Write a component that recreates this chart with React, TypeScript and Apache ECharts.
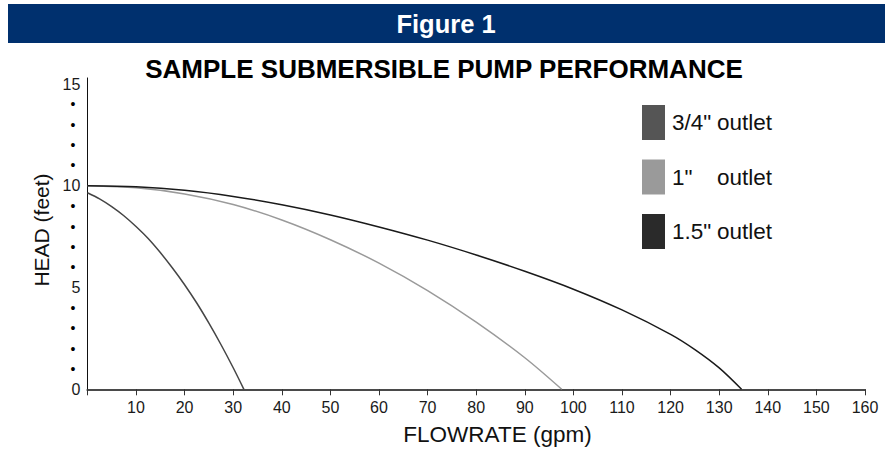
import React, { useEffect, useRef } from 'react';
import * as echarts from 'echarts';

const flowTicks = [0, 10, 20, 30, 40, 50, 60, 70, 80, 90, 100, 110, 120, 130, 140, 150, 160];
const headMajor = [0, 5, 10, 15];

const seriesNames = ['3/4" outlet', '1" outlet', '1.5" outlet'];
const legendSizes = ['3/4"', '1"', '1.5"'];
const legendColors = ['#555555', '#9a9a9a', '#2a2a2a'];
const lineColors = ['#454545', '#9a9a9a', '#1a1a1a'];

const flow34 = [0, 2.5, 5, 7.5, 10, 12.5, 15, 17.5, 20, 22.5, 25, 27.5, 30, 32.2];
const head34 = [9.66, 9.36, 8.98, 8.53, 8.0, 7.41, 6.72, 5.96, 5.14, 4.24, 3.25, 2.19, 1.06, 0];

const flow1 = [0, 10, 20, 30, 40, 50, 60, 70, 80, 90, 97.6];
const head1 = [10, 9.9, 9.6, 9.08, 8.32, 7.35, 6.2, 4.85, 3.3, 1.55, 0];

const flow15 = [0, 10, 20, 30, 40, 50, 60, 70, 80, 90, 100, 110, 120, 125, 130, 134.6];
const head15 = [10, 9.95, 9.78, 9.48, 9.07, 8.57, 7.98, 7.33, 6.6, 5.8, 4.92, 3.9, 2.7, 1.95, 1.05, 0];

const FONT = 'Liberation Sans, Arial, sans-serif';

function pairs(x: number[], y: number[]) {
  return x.map((v, i) => [v, y[i]]);
}

export default function App() {
  const ref = useRef<HTMLDivElement>(null);
  useEffect(() => {
    const chart = echarts.init(ref.current!, undefined, { renderer: 'svg' });
    const data = [pairs(flow34, head34), pairs(flow1, head1), pairs(flow15, head15)];
    chart.setOption({
      animation: false,
      backgroundColor: '#ffffff',
      grid: { left: 87.4, right: 25, top: 77.95, bottom: 61.7, containLabel: false },
      xAxis: {
        type: 'value',
        min: flowTicks[0],
        max: flowTicks[flowTicks.length - 1],
        interval: 10,
        axisLine: { show: true, lineStyle: { color: '#4a4a4a', width: 2 } },
        axisTick: { show: true, length: 6, lineStyle: { color: '#333', width: 1 } },
        splitLine: { show: false },
        axisLabel: {
          margin: 10,
          fontSize: 16,
          color: '#1a1a1a',
          fontFamily: FONT,
          formatter: (v: number) => (v === 0 || !flowTicks.includes(v) ? '' : String(v)),
        },
      },
      yAxis: {
        type: 'value',
        min: 0,
        max: 15.3,
        interval: 1,
        axisLine: { show: true, onZero: false, lineStyle: { color: '#111', width: 1 } },
        axisTick: { show: false },
        splitLine: { show: false },
        axisLabel: {
          margin: 7,
          fontSize: 16,
          color: '#1a1a1a',
          fontFamily: FONT,
          formatter: (v: number) => {
            if (headMajor.includes(v)) return String(v);
            if (Number.isInteger(v) && v < 15) return '{d|•}';
            return '';
          },
          rich: {
            d: { fontSize: 14, color: '#000', padding: [0, 5, 0, 0], fontFamily: FONT },
          },
        },
      },
      legend: {
        show: true,
        orient: 'vertical',
        left: 642,
        top: 105,
        padding: 0,
        itemWidth: 23,
        itemHeight: 35,
        itemGap: 19.5,
        icon: 'rect',
        selectedMode: false,
        data: seriesNames,
        formatter: (name: string) => {
          const i = seriesNames.indexOf(name);
          return `{a|${legendSizes[i]}}{b|outlet}`;
        },
        textStyle: {
          fontFamily: FONT,
          fontSize: 22.5,
          color: '#111',
          rich: {
            a: { fontSize: 22.5, width: 45, padding: [0, 0, 0, 2], fontFamily: FONT, color: '#111' },
            b: { fontSize: 22.5, fontFamily: FONT, color: '#111' },
          },
        },
      },
      graphic: [
        {
          type: 'rect',
          shape: { x: 8, y: 4, width: 877, height: 39 },
          style: { fill: '#00306e' },
          silent: true,
        },
        {
          type: 'text',
          x: 446,
          y: 24,
          style: {
            text: 'Figure 1',
            fill: '#ffffff',
            fontSize: 25.5,
            fontWeight: 'bold',
            fontFamily: FONT,
            align: 'center',
            verticalAlign: 'middle',
          },
          silent: true,
        },
        {
          type: 'text',
          x: 444,
          y: 69,
          style: {
            text: 'SAMPLE SUBMERSIBLE PUMP PERFORMANCE',
            fill: '#000000',
            fontSize: 26,
            fontWeight: 'bold',
            fontFamily: FONT,
            align: 'center',
            verticalAlign: 'middle',
          },
          silent: true,
        },
        {
          type: 'text',
          x: 497.5,
          y: 434,
          style: {
            text: 'FLOWRATE (gpm)',
            fill: '#111',
            fontSize: 22.5,
            fontFamily: FONT,
            align: 'center',
            verticalAlign: 'middle',
          },
          silent: true,
        },
        {
          type: 'text',
          x: 41,
          y: 230,
          rotation: Math.PI / 2,
          style: {
            text: 'HEAD (feet)',
            fill: '#111',
            fontSize: 21,
            fontFamily: FONT,
            align: 'center',
            verticalAlign: 'middle',
          },
          silent: true,
        },
      ],
      series: data.map((d, i) => ({
        name: seriesNames[i],
        type: 'line',
        data: d,
        smooth: 0.3,
        showSymbol: false,
        symbol: 'none',
        itemStyle: { color: legendColors[i] },
        lineStyle: { color: lineColors[i], width: 1.5 },
      })),
    });
    return () => chart.dispose();
  }, []);
  return (
    <div
      ref={ref}
      style={{ position: 'absolute', left: 0, top: 0, width: 890, height: 451 }}
    />
  );
}
